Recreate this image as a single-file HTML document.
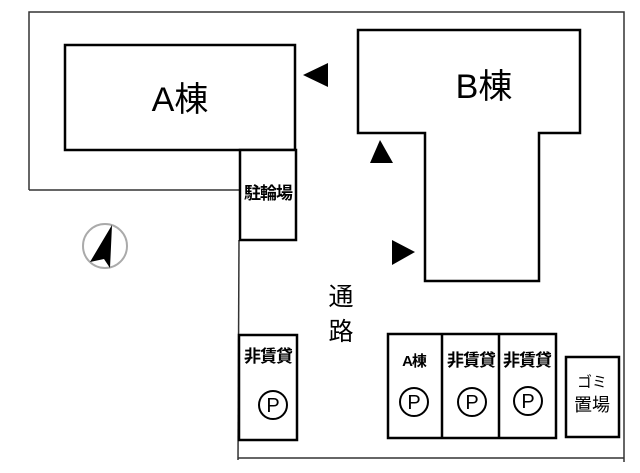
<!DOCTYPE html>
<html><head><meta charset="utf-8"><style>
body{margin:0;background:#fff}
svg{display:block}
text{font-family:"Liberation Sans","Noto Sans CJK JP",sans-serif;fill:#000}
</style></head><body>
<svg width="640" height="473" viewBox="0 0 640 473">
<g fill="none" stroke="#333" stroke-width="1.5">
<polyline points="29,190 29,12 624,12 624,462"/>
<polyline points="29,190 240,190"/>
<line x1="239" y1="240" x2="238" y2="460"/>
<line x1="238" y1="458" x2="624" y2="458"/>
</g>
<g fill="#fff" stroke="#000" stroke-width="2.5">
<rect x="65" y="45" width="230" height="105"/>
<rect x="240" y="150" width="56" height="90"/>
<polygon points="358,30 580,30 580,133 539,133 539,281 425,281 425,133 358,133"/>
<rect x="239" y="335" width="58" height="105"/>
<rect x="388" y="334" width="168" height="104"/>
<line x1="442" y1="334" x2="442" y2="438"/>
<line x1="499" y1="334" x2="499" y2="438"/>
<rect x="566" y="357" width="53" height="80"/>
</g>
<polygon points="303,75 328,63 328,87" fill="#000"/>
<polygon points="370,163 380,140 393,163" fill="#000"/>
<polygon points="392,240 415,252 392,265" fill="#000"/>
<circle cx="105" cy="246" r="22" fill="none" stroke="#aaa" stroke-width="2"/>
<polygon points="112,225 90,262 104,259 110,268" fill="#000"/>
<text x="180" y="111" font-size="34" text-anchor="middle">A棟</text>
<text x="484" y="98" font-size="34" text-anchor="middle">B棟</text>
<text x="268" y="199" font-size="17" font-weight="bold" text-anchor="middle" letter-spacing="-1">駐輪場</text>
<text x="341" y="305" font-size="25" text-anchor="middle">通</text>
<text x="341" y="340" font-size="25" text-anchor="middle">路</text>
<text x="268" y="362" font-size="17" font-weight="bold" text-anchor="middle" letter-spacing="-1">非賃貸</text>
<text x="414" y="366" font-size="15" font-weight="bold" text-anchor="middle" letter-spacing="-1">A棟</text>
<text x="471" y="366" font-size="17" font-weight="bold" text-anchor="middle" letter-spacing="-1">非賃貸</text>
<text x="527" y="366" font-size="17" font-weight="bold" text-anchor="middle" letter-spacing="-1">非賃貸</text>
<text x="592" y="387" font-size="15" text-anchor="middle">ゴミ</text>
<text x="592" y="411" font-size="18" text-anchor="middle">置場</text>
<g fill="none" stroke="#000" stroke-width="2">
<circle cx="273" cy="405" r="14"/>
<circle cx="414" cy="402" r="14"/>
<circle cx="472" cy="402" r="14"/>
<circle cx="528" cy="401" r="14"/>
</g>
<g font-size="20" text-anchor="middle">
<text x="273" y="412">P</text>
<text x="414" y="409">P</text>
<text x="472" y="409">P</text>
<text x="528" y="408">P</text>
</g>
</svg>
</body></html>
